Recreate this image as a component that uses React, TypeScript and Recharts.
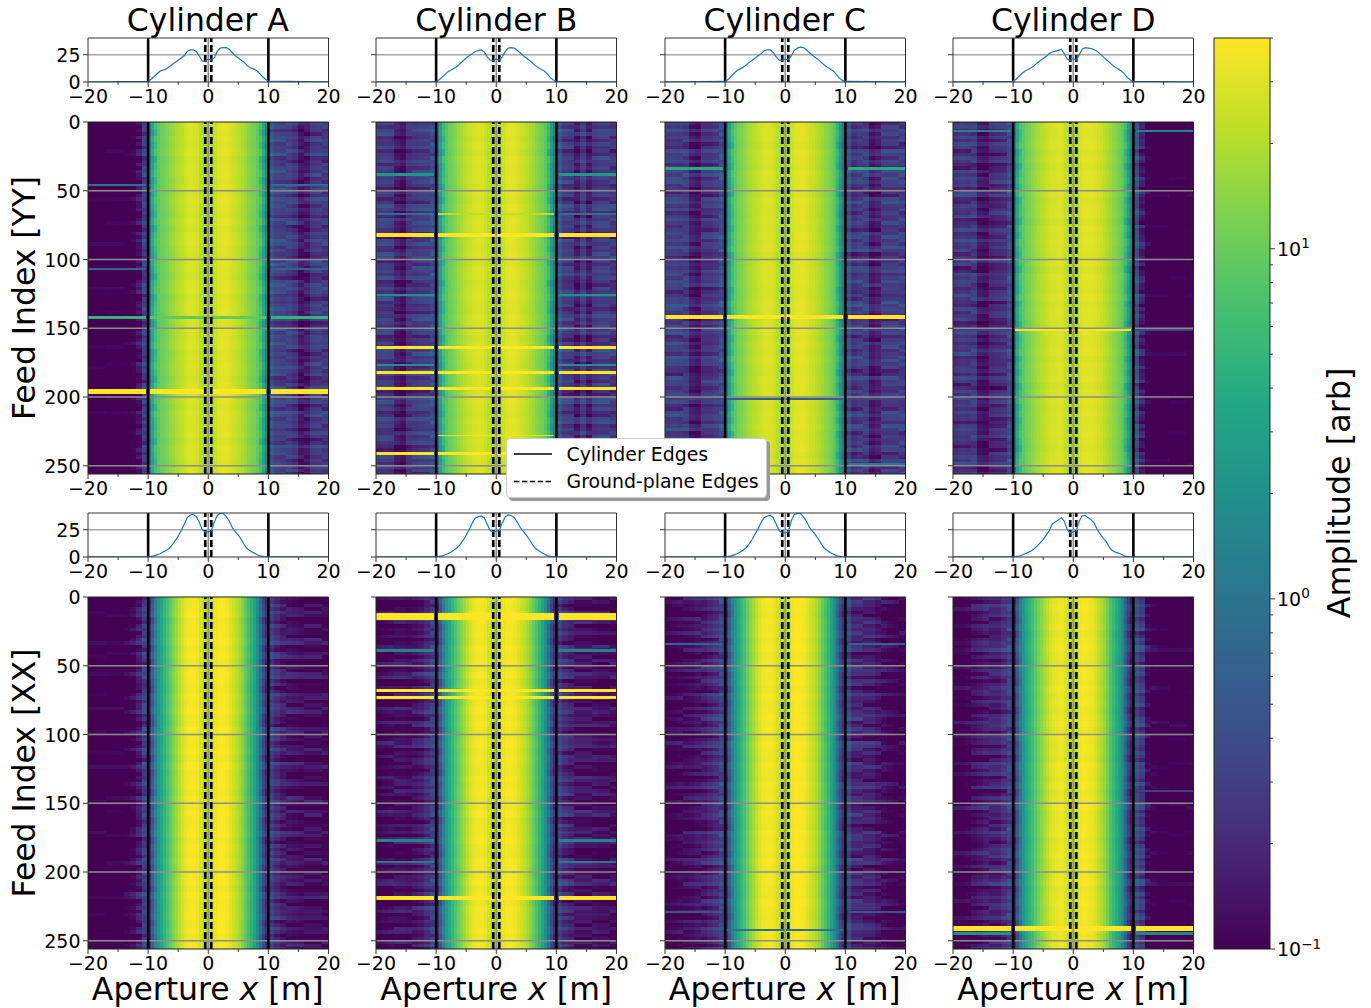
import React from "react";
import {
  ComposedChart, ScatterChart, Scatter, Line, XAxis, YAxis, ReferenceLine, ReferenceArea,
} from "recharts";

const FONT = "'DejaVu Sans', sans-serif";
const CYLINDERS = ["Cylinder A", "Cylinder B", "Cylinder C", "Cylinder D"];
const X_TICKS = [-20, -15, -10, -5, 0, 5, 10, 15, 20];
const FEED_TICKS = [0, 50, 100, 150, 200, 250];
const GRID_FEEDS = [50, 100, 150, 200, 250];
const PROFILE_TICKS = [0, 25];
const CB_TICKS = [0.1, 0.2, 0.3, 0.4, 0.5, 0.6, 0.7, 0.8, 0.9, 1, 2, 3, 4, 5, 6, 7, 8, 9, 10, 20, 30, 40];
const VIRIDIS = ["#440154", "#482475", "#414487", "#355f8d", "#2a788e", "#21918c", "#22a884", "#44bf70", "#7ad151", "#bddf26", "#fde725"];

// mean amplitude at x = -10, -9.5 ... 10
const PROF_YY_A = [.5,2.5,5,7.5,10,11,12,14,16,18,20,22,24,28,29.5,29.5,28,24,19,19,21,20,22,28,31,31.5,31.5,30,27,24,22,20,18,15,13,12,10.5,8,5,2.5,.8];
const PROF_YY_B = [.4,2,4.5,7,9.5,11,12.5,14.5,17,19.5,22,24,26,28,29,29.5,27.5,23,20,19.5,21,20,23,28,31,31.5,31,29,26.5,24,22,20,17.5,15,13,11.5,10,7.5,4,1.8,.6];
const PROF_YY_C = [.5,2.2,5,8,10.5,12,13.5,15.5,18,20,22,24,26,28.5,29.5,29.5,27,23,20,20,21,20.5,24,29,31,32,31.5,29.5,27,24.5,22.5,20.5,18,15.5,13.5,12,10,7,3.5,1.5,.5];
const PROF_YY_D = [.6,2.5,5.5,8,10,11.5,13,15,17.5,19.5,21.5,23.5,26,27.5,28,29,30,26,21,20,21.5,20,25,30,31.5,31,30.5,29.5,28,25.5,23,20.5,18,15.5,13.5,12,10,7.5,4,1.8,.6];
const PROF_XX_A = [.12,.35,1,2,3,4.5,6,8,11,15,19,24,30,36,38.5,39,37,32,25,23,23,24,32,38,40,40,37,33,27,23,20,16,11,7.5,5.5,4,2.5,1.2,.5,.25,.15];
const PROF_XX_B = [.12,.35,1,2,3.2,4.6,6.5,8.5,11.5,15.5,20,25,31,35.5,37,37.5,36,30,24,23,23.5,24,31,37,38.5,38,36,32,27,23.5,20,16,11.5,8,6,4.2,2.7,1.3,.6,.25,.15];
const PROF_XX_C = [.12,.35,1,2,3,4.5,6.2,8.5,12,16,21,26,32,36,37.5,38,36,30,24,22,22,23,33,39,40,40,37,33,27.5,24,20.5,16.5,12,8,6,4.2,2.6,1.3,.5,.25,.15];
const PROF_XX_D = [.12,.3,.9,1.8,3,4.2,5.5,7.5,10,13,16,20,24,30,32,34,36,33,25,22,23,24,33,38,38,36,34,31,25,21,17,14,9,6,4.5,3.5,2.5,1,.4,.2,.12];

// outside-cylinder level, 1 m columns: x = -19.5 ... -10.5 and 10.5 ... 19.5
const LEFT_YY_A = [.07,.07,.07,.07,.07,.07,.07,.08,.13,.3];
const RIGHT_YY_A = [.5,.35,.32,.32,.25,.14,.16,.28,.3,.28];
const LEFT_YY_B = [.28,.3,.28,.16,.13,.25,.28,.3,.32,.4];
const RIGHT_YY_B = [.5,.3,.28,.16,.3,.16,.28,.3,.3,.26];
const LEFT_YY_C = [.3,.32,.3,.3,.16,.14,.25,.25,.3,.42];
const RIGHT_YY_C = [.45,.25,.3,.3,.15,.18,.3,.3,.3,.3];
const LEFT_YY_D = [.24,.28,.26,.28,.14,.13,.2,.22,.24,.4];
const RIGHT_YY_D = [.45,.16,.08,.07,.07,.07,.07,.07,.07,.07];
const LEFT_XX_A = [.07,.07,.07,.07,.07,.07,.08,.1,.16,.3];
const RIGHT_XX_A = [.32,.22,.16,.14,.13,.12,.12,.12,.12,.11];
const LEFT_XX_B = [.1,.11,.12,.13,.13,.12,.14,.16,.22,.3];
const RIGHT_XX_B = [.32,.22,.18,.14,.14,.14,.13,.12,.12,.12];
const LEFT_XX_C = [.09,.1,.11,.12,.13,.15,.16,.2,.25,.35];
const RIGHT_XX_C = [.35,.2,.2,.18,.18,.14,.12,.1,.09,.09];
const LEFT_XX_D = [.09,.09,.1,.13,.15,.18,.18,.18,.25,.35];
const RIGHT_XX_D = [.4,.28,.1,.08,.07,.07,.07,.07,.07,.07];

// feed-to-feed level, one value per 5 feeds
const ROWS_YY_A = [1.1,.8,1.2,.9,1.3,.7,1,1.2,.8,1.1,.9,1.3,1,.8,1.2,.7,1.1,1.3,.9,.8,1.2,1,.7,1.1,1.3,.8,1,1.2,.9,.7,1.1,1,1.3,.8,.9,1.2,1,.7,1.1,.9,1.2,.8,1.3,1,.9,1.1,.7,1.2,1,.8,1.1,.9];
const ROWS_YY_B = [1,1.2,.8,1.1,.7,1.3,.9,1,1.2,.7,1.1,.8,1.3,.9,1.2,1,.7,1.1,.9,1.3,.8,1.1,1.2,.7,1,1.3,.9,.8,1.2,1,1.1,.7,.9,1.3,1,.8,1.2,.9,1.1,.7,1.3,1,.8,1.2,.9,1.1,1,.7,1.3,.9,1.1,.8];
const ROWS_YY_C = [.9,1.1,1,.7,1.2,1,.8,1.3,1.1,.9,.7,1.2,1,.9,1.1,.8,1.2,1,1.3,.7,.9,1.1,1,1.2,.8,.9,1.3,1.1,.7,1,1.2,.8,1.1,.9,1.3,1,.7,1.2,.9,1,1.1,.8,1.2,.9,1.3,.8,1,1.1,.7,1.2,.9,1];
const ROWS_YY_D = [1.2,.9,1,1.3,.8,1.1,.7,1,1.2,.9,1.3,.8,1,1.1,.7,1.2,.9,1.3,1,.8,1.1,.7,1.2,1,.9,1.3,.8,1.1,1,.7,1.2,.9,1,1.3,.8,1.1,.9,1.2,.7,1,1.3,.9,1.1,.8,1,1.2,.9,.7,1.1,1.3,.8,1];
const ROWS_XX_A = [.8,1,1.3,.7,1.1,.9,1.4,.8,1.2,.7,1,1.3,.9,.7,1.2,1,1.4,.8,.7,1.3,1,.9,1.2,.7,1.4,.8,1,1.1,.7,1.3,.9,1.2,.8,1,1.4,.7,1.1,.9,1.3,.8,1,1.2,.7,1.4,.9,1,1.3,.8,1.1,.7,1.2,1];
const ROWS_XX_B = [1,.7,1.2,1.4,.8,1,.7,1.3,.9,1.2,.8,1.4,.7,1,1.1,.8,1.3,.9,1.2,.7,1,1.4,.8,1.1,.9,.7,1.3,1,1.2,.8,.9,1.4,.7,1.1,1,1.3,.8,.7,1.2,1,.9,1.4,.8,1.1,.7,1.3,1,.9,1.2,.8,1.1,.7];
const ROWS_XX_C = [1.3,.9,.7,1.1,1,1.3,.8,1.2,.7,1,1.4,.9,1.1,.7,1.2,.8,1,1.3,.9,1.1,.7,1.4,1,.8,1.2,.9,.7,1.3,1,1.1,.8,1.2,.9,.7,1.3,1,1.1,.8,1.4,.7,1,1.2,.9,.8,1.3,1,.7,1.1,1.2,.9,.8,1.3];
const ROWS_XX_D = [.9,1.3,1,.8,1.2,.7,1.1,1.4,.9,.7,1.2,1,.8,1.3,.9,1.1,.7,1,1.4,.8,1.2,.9,1,.7,1.3,1.1,.8,1.2,.7,1,1.4,.9,.8,1.1,1.2,.7,1,1.3,.9,1.1,.8,1.4,.7,1,1.2,.9,1.1,.8,1.3,.7,1,1.2];
// finer streak texture read from the outer regions
const STREAK = [1.2,.8,1,1.3,.75,1.1,.9,1.25,.7,1,1.3,.85,1.1,.75,1.2,.95,1.3,.8,1.05,.7,1.25,.9,1.15,.75,1,1.3,.8,1.2,.9,.7,1.1,1.25,.85,1,.75,1.3,.95,1.15,.8,1.2,.7,1.05,1.3,.9,.8,1.2,1,.75,1.25,.9,1.1,.7,1.3,.85,1.05,1.2,.75,.95,1.3,.8,1.1,.9,1.25,.7,1,1.15,.8,1.3];

// [feed, thickness in feeds, amplitude left, amplitude right, amplitude inside]; 0 = not drawn
const LINES_YY_A = [[46,1.4,1,1,0],[107,1,.7,.7,0],[142,1.8,5,5,9],[196,3,60,60,60]];
const LINES_YY_B = [[38,1.8,2.2,2.4,0],[67,1.1,.9,.9,22],[82,2.4,60,60,60],[126,1.4,2,2,0],[164,2.4,60,60,60],[176.5,1.4,2,2,0],[182,2,60,60,60],[194,2,60,60,60],[228,.8,0,0,32],[241,2.4,60,60,60]];
const LINES_YY_C = [[34,1.6,4,4,0],[142,2.6,60,60,60],[201.5,1,.3,.3,.6],[249,1.2,0,1.2,0]];
const LINES_YY_D = [[6.5,1.4,1.5,1.5,0],[151,1,.3,.3,36]];
const LINES_XX_A: number[][] = [];
const LINES_XX_B = [[14,4.6,60,60,60],[39,1.4,1.4,1.4,0],[68,2.2,60,60,60],[73,2.2,60,60,60],[177,1.4,1.4,1.4,0],[193,1.2,1.1,1.1,0],[219,2.2,60,60,60]];
const LINES_XX_C = [[34,1,.7,.7,0],[229,.8,.5,.5,0],[242,1,0,0,1]];
const LINES_XX_D = [[241,3,60,60,60],[244.5,2,2,1.4,0],[141,1,0,.3,0]];

const PANELS_YY = [
  [PROF_YY_A, LEFT_YY_A, RIGHT_YY_A, ROWS_YY_A, LINES_YY_A],
  [PROF_YY_B, LEFT_YY_B, RIGHT_YY_B, ROWS_YY_B, LINES_YY_B],
  [PROF_YY_C, LEFT_YY_C, RIGHT_YY_C, ROWS_YY_C, LINES_YY_C],
  [PROF_YY_D, LEFT_YY_D, RIGHT_YY_D, ROWS_YY_D, LINES_YY_D],
];
const PANELS_XX = [
  [PROF_XX_A, LEFT_XX_A, RIGHT_XX_A, ROWS_XX_A, LINES_XX_A],
  [PROF_XX_B, LEFT_XX_B, RIGHT_XX_B, ROWS_XX_B, LINES_XX_B],
  [PROF_XX_C, LEFT_XX_C, RIGHT_XX_C, ROWS_XX_C, LINES_XX_C],
  [PROF_XX_D, LEFT_XX_D, RIGHT_XX_D, ROWS_XX_D, LINES_XX_D],
];

// layout
const PLOT_W = 240.5;
const HEAT_H = 352;
const PROF_H = 44;
const PLOT_LEFTS = [87.5, 376, 664.5, 953];
const M_LEFT = 70, M_TOP = 12, M_RIGHT = 30, M_BOTTOM = 32;
const PX_PER_M = PLOT_W / 40;
const PX_PER_FEED = HEAT_H / 256;

const hex = (s: string) => [1, 3, 5].map((i) => parseInt(s.slice(i, i + 2), 16));
function colour(v: number) {
  const t = Math.max(0, Math.min(1, Math.log(v / 0.1) / Math.log(400))) * (VIRIDIS.length - 1);
  const i = Math.min(VIRIDIS.length - 2, Math.floor(t));
  const a = hex(VIRIDIS[i]), b = hex(VIRIDIS[i + 1]), f = t - i;
  return `rgb(${a.map((c, k) => Math.round(c + (b[k] - c) * f)).join(",")})`;
}

type Cell = { x: number; y: number; w: number; h: number; v: number };
function buildCells(prof: number[], left: number[], right: number[], rows: number[], lines: number[][], seed: number) {
  const cells: Cell[] = [];
  const n = STREAK.length;
  rows.forEach((r, ri) => {
    const start = ri * 5;
    const h = Math.min(5, 256 - start);
    if (h <= 0) return;
    const y = start + h / 2;
    for (let i = 0; i < 40; i++) {
      const x = -9.75 + i * 0.5;
      const k = Math.abs(x) >= 8.5 ? 0.8 : 0.12;
      cells.push({ x, y, w: 0.5, h, v: Math.sqrt(prof[i] * prof[i + 1]) * Math.pow(r, k) });
    }
    for (let sub = 0; sub < 2; sub++) {
      const sy = start + (sub + 0.5) * h / 2;
      const s = ri * 2 + sub;
      left.forEach((c, i) => {
        const f = STREAK[(s + seed + Math.floor(i / 3) * 23) % n];
        cells.push({ x: -19.5 + i, y: sy, w: 1, h: h / 2, v: c * r * f });
      });
      right.forEach((c, i) => {
        const f = STREAK[(s + seed + 11 + Math.floor(i / 3) * 31) % n];
        cells.push({ x: 10.5 + i, y: sy, w: 1, h: h / 2, v: c * r * f });
      });
    }
  });
  lines.forEach(([feed, h, l, rt, inner]) => {
    if (l) cells.push({ x: -15.2, y: feed, w: 9.6, h, v: l });
    if (rt) cells.push({ x: 15.2, y: feed, w: 9.6, h, v: rt });
    if (inner) cells.push({ x: 0, y: feed, w: 19.2, h, v: inner });
  });
  return cells;
}

const CellShape = (p: any) => {
  const c: Cell = p.payload;
  const w = c.w * PX_PER_M + 0.4;
  const h = c.h * PX_PER_FEED + 0.4;
  return <rect x={p.cx - w / 2} y={p.cy - h / 2} width={w} height={h} fill={colour(c.v)} shapeRendering="crispEdges" />;
};

const minus = (n: number) => (n < 0 ? "\u2212" + Math.abs(n) : String(n));

const XTick = (p: any) => {
  const v = p.payload.value;
  const major = v % 10 === 0;
  return (
    <g>
      <line x1={p.x} x2={p.x} y1={p.y} y2={p.y + (major ? 5 : 3)} stroke="#333" strokeWidth={1} />
      {major && (
        <text x={p.x} y={p.y + 20.5} textAnchor="middle" fontFamily={FONT} fontSize={19} fill="#000">{minus(v)}</text>
      )}
    </g>
  );
};
const YTick = (labelled: boolean) => (p: any) => (
  <g>
    <line x1={p.x - 5} x2={p.x} y1={p.y} y2={p.y} stroke="#333" strokeWidth={1} />
    {labelled && (
      <text x={p.x - 7.5} y={p.y + 7} textAnchor="end" fontFamily={FONT} fontSize={19} fill="#000">{p.payload.value}</text>
    )}
  </g>
);
const CbTick = (p: any) => {
  const v = p.payload.value;
  const decade = v === 0.1 || v === 1 || v === 10;
  const exp = v === 0.1 ? "\u22121" : v === 1 ? "0" : "1";
  return (
    <g>
      <line x1={p.x} x2={p.x + (decade ? 5 : 3)} y1={p.y} y2={p.y} stroke="#333" strokeWidth={1} />
      {decade && (
        <text x={p.x + 7} y={p.y + 7} fontFamily={FONT} fontSize={19} fill="#000">
          10<tspan fontSize={13.5} dy={-7.5}>{exp}</tspan>
        </text>
      )}
    </g>
  );
};

function guides(extra: React.ReactNode[]) {
  return [
    ...extra,
    <ReferenceLine key="v0" x={0} stroke="#8c8c8c" strokeWidth={1.5} zIndex={700} />,
    <ReferenceLine key="l" x={-10} stroke="#000" strokeWidth={2.6} zIndex={710} />,
    <ReferenceLine key="r" x={10} stroke="#000" strokeWidth={2.6} zIndex={710} />,
    <ReferenceLine key="dl" x={-0.5} stroke="#000" strokeWidth={2.7} strokeDasharray="7 3" zIndex={710} />,
    <ReferenceLine key="dr" x={0.5} stroke="#000" strokeWidth={2.7} strokeDasharray="7 3" zIndex={710} />,
  ];
}

function ProfilePanel({ left, top, prof, labelled }: any) {
  const data = [{ x: -20, a: 0.15 }, ...prof.map((a: number, i: number) => ({ x: -10 + i * 0.5, a })), { x: 20, a: 0.15 }];
  return (
    <div style={{ position: "absolute", left: left - M_LEFT, top: top - M_TOP }}>
      <ComposedChart width={PLOT_W + M_LEFT + M_RIGHT} height={PROF_H + M_TOP + M_BOTTOM} data={data}
        margin={{ left: M_LEFT - 1, right: M_RIGHT, top: M_TOP, bottom: M_BOTTOM - 1 }}>
        <XAxis dataKey="x" type="number" domain={[-20, 20]} ticks={X_TICKS} interval={0} height={1}
          axisLine={false} tickLine={false} tickSize={0} tickMargin={0} tick={XTick} />
        <YAxis type="number" domain={[0, 40.3]} allowDataOverflow ticks={PROFILE_TICKS} interval={0} width={1}
          axisLine={false} tickLine={false} tickSize={0} tickMargin={0} tick={YTick(labelled)} />
        {guides([<ReferenceLine key="g" y={25} stroke="#a6a6a6" strokeWidth={1.5} zIndex={690} />])}
        <Line dataKey="a" dot={false} stroke="#1f77b4" strokeWidth={1.2} isAnimationActive={false} zIndex={720} />
        <ReferenceArea x1={-20} x2={20} y1={0} y2={40.3} fill="none" stroke="#333" strokeWidth={1} zIndex={730} />
      </ComposedChart>
    </div>
  );
}

function HeatPanel({ left, top, spec, labelled, seed }: any) {
  const cells = buildCells(spec[0], spec[1], spec[2], spec[3], spec[4], seed);
  return (
    <div style={{ position: "absolute", left: left - M_LEFT, top: top - M_TOP }}>
      <ScatterChart width={PLOT_W + M_LEFT + M_RIGHT} height={HEAT_H + M_TOP + M_BOTTOM}
        margin={{ left: M_LEFT - 1, right: M_RIGHT, top: M_TOP, bottom: M_BOTTOM - 1 }}>
        <XAxis dataKey="x" type="number" domain={[-20, 20]} allowDataOverflow ticks={X_TICKS} interval={0} height={1}
          axisLine={false} tickLine={false} tickSize={0} tickMargin={0} tick={XTick} />
        <YAxis dataKey="y" type="number" reversed domain={[0, 256]} allowDataOverflow ticks={FEED_TICKS} interval={0} width={1}
          axisLine={false} tickLine={false} tickSize={0} tickMargin={0} tick={YTick(labelled)} />
        <Scatter data={cells} shape={CellShape} isAnimationActive={false} />
        {guides(GRID_FEEDS.map((f) => <ReferenceLine key={f} y={f} stroke="#8c8c8c" strokeWidth={1.5} zIndex={690} />))}
        <ReferenceArea x1={-20} x2={20} y1={0} y2={256} fill="none" stroke="#222" strokeWidth={1} zIndex={730} />
      </ScatterChart>
    </div>
  );
}

function ColorBar() {
  const left = 1214, top = 37.5, w = 56, h = 911;
  return (
    <div style={{ position: "absolute", left: left - 10, top: top - 12 }}>
      <ComposedChart width={w + 110} height={h + 24} data={[{ x: 0.5, y: 1 }]}
        margin={{ left: 10, right: 99, top: 12, bottom: 12 }}>
        <defs>
          <linearGradient id="viridisGrad" x1="0" y1="1" x2="0" y2="0">
            {VIRIDIS.map((c, i) => <stop key={c} offset={i / (VIRIDIS.length - 1)} stopColor={c} />)}
          </linearGradient>
        </defs>
        <XAxis dataKey="x" type="number" domain={[0, 1]} hide />
        <YAxis orientation="right" type="number" scale="log" domain={[0.1, 40]} allowDataOverflow ticks={CB_TICKS} interval={0} width={1}
          axisLine={false} tickLine={false} tickSize={0} tickMargin={0} tick={CbTick} />
        <ReferenceArea x1={0} x2={1} y1={0.1} y2={40} fill="url(#viridisGrad)" fillOpacity={1} stroke="#222" strokeWidth={1} />
      </ComposedChart>
    </div>
  );
}

const label = (text: React.ReactNode, cx: number, cy: number, size: number, rotate = 0) => (
  <div style={{
    position: "absolute", left: cx, top: cy, transform: `translate(-50%,-50%) rotate(${rotate}deg)`,
    fontFamily: FONT, fontSize: size, whiteSpace: "nowrap", color: "#000", lineHeight: 1,
  }}>{text}</div>
);

function LegendBox() {
  return (
    <div style={{
      position: "absolute", left: 505.5, top: 437.5, width: 261, height: 60, boxSizing: "border-box",
      background: "#fff", border: "1px solid #ccc", borderRadius: 4, boxShadow: "3px 3px 0 #999", zIndex: 5,
      fontFamily: FONT, fontSize: 18.9, color: "#000",
    }}>
      <svg width={50} height={58} style={{ position: "absolute", left: 0, top: 0 }}>
        <line x1={7} x2={45} y1={15} y2={15} stroke="#000" strokeWidth={1.5} />
        <line x1={7} x2={45} y1={42.5} y2={42.5} stroke="#000" strokeWidth={1.5} strokeDasharray="5.5 2.4" />
      </svg>
      <div style={{ position: "absolute", left: 60, top: 3, lineHeight: "24px", whiteSpace: "nowrap" }}>Cylinder Edges</div>
      <div style={{ position: "absolute", left: 60, top: 30, lineHeight: "24px", whiteSpace: "nowrap" }}>Ground-plane Edges</div>
    </div>
  );
}

export default function App() {
  return (
    <div style={{ position: "absolute", left: 0, top: 0, width: 1371, height: 1008, background: "#fff", overflow: "hidden" }}>
      {CYLINDERS.map((c, i) => (
        <React.Fragment key={c}>
          {label(c, PLOT_LEFTS[i] + PLOT_W / 2, 20.5, 31.5)}
          <ProfilePanel left={PLOT_LEFTS[i]} top={37.5} prof={PANELS_YY[i][0]} labelled={i === 0} />
          <HeatPanel left={PLOT_LEFTS[i]} top={121.5} spec={PANELS_YY[i]} labelled={i === 0} seed={i * 7} />
          <ProfilePanel left={PLOT_LEFTS[i]} top={513} prof={PANELS_XX[i][0]} labelled={i === 0} />
          <HeatPanel left={PLOT_LEFTS[i]} top={597} spec={PANELS_XX[i]} labelled={i === 0} seed={i * 13 + 3} />
          {label(<span>Aperture <i>x</i> [m]</span>, PLOT_LEFTS[i] + PLOT_W / 2, 990, 31.5)}
        </React.Fragment>
      ))}
      {label("Feed Index [YY]", 25, 298, 31.4, -90)}
      {label("Feed Index [XX]", 25, 773, 31.4, -90)}
      {label("Amplitude [arb]", 1339, 493, 31.8, -90)}
      <ColorBar />
      <LegendBox />
    </div>
  );
}
